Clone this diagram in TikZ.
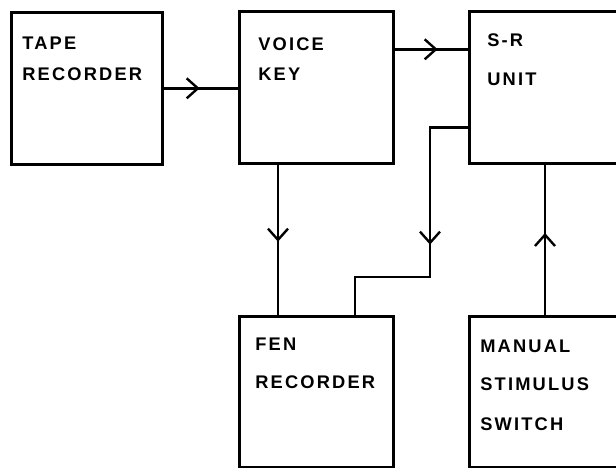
\documentclass[tikz,border=0pt]{standalone}
\usepackage{fontspec}
\setmainfont[LetterSpace=12]{Liberation Sans}
\usetikzlibrary{arrows.meta,decorations.markings}

\begin{document}
\begin{tikzpicture}[
    box/.style={rectangle, draw, line width=1.9pt, minimum width=3.85cm, minimum height=3.8cm, anchor=north west},
    lbl/.style={anchor=north west, inner sep=0pt, align=left, font=\fontsize{13}{22}\selectfont\bfseries},
    wire/.style={line width=1.8pt},
    flow/.style={wire, postaction={decorate}, decoration={markings,
        mark=at position #1 with {\arrow{Straight Barb[length=0.28cm, width=0.5cm, line width=1.7pt]}}}},
]

% page frame
\path[use as bounding box, clip] (0,0) rectangle (15.4,11.7);

% blocks
\node[box, minimum width=3.775cm] (tape) at (0.25,11.425) {};
\node[box] (voice) at (5.95,11.45) {};
\node[box, minimum width=4.2cm] (sr) at (11.7,11.45) {};
\node[box, minimum height=3.78cm] (fen) at (5.95,3.825) {};
\node[box, minimum width=4.2cm, minimum height=3.78cm] (manual) at (11.7,3.825) {};

% block texts
\node[lbl] (tapetxt) at ([xshift=0.3cm, yshift=-0.65cm]tape.north west) {TAPE\\RECORDER};
\node[lbl] (voicetxt) at ([xshift=0.5cm, yshift=-0.675cm]voice.north west) {VOICE\\KEY};
\node[lbl] (srtxt) at ([xshift=0.475cm, yshift=-0.575cm]sr.north west) {S-R\\[6pt]UNIT};
\node[lbl] (fentxt) at ([xshift=0.425cm, yshift=-0.575cm]fen.north west) {FEN\\[5pt]RECORDER};
\node[lbl] (manualtxt) at ([xshift=0.3cm, yshift=-0.625cm]manual.north west) {MANUAL\\[5pt]STIMULUS\\[6pt]SWITCH};

% connections
\coordinate (bend) at (10.75,4.775);
\draw[flow=0.9cm] (tape.east) -- (voice.west |- tape.east);
\draw[flow=1.075cm] ([yshift=0.95cm]voice.east) -- ([yshift=0.95cm]sr.west);
\draw[flow=1.925cm] ([xshift=1cm]voice.south west) -- ([xshift=1cm]fen.north west);
\draw[flow=3.875cm] ([yshift=0.925cm]sr.south west) -| (bend) -| ([xshift=2.925cm]fen.north west);
\draw[flow=2.05cm] ([xshift=1.925cm]manual.north west) -- ([xshift=1.925cm]sr.south west);

\end{tikzpicture}
\end{document}
